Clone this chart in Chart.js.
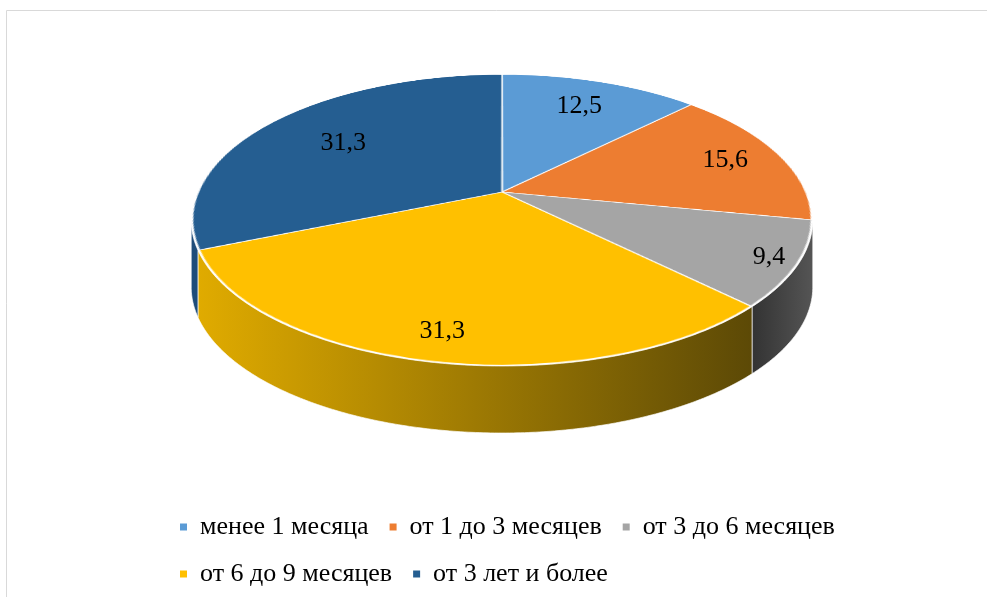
<!DOCTYPE html>
<html>
<head>
<meta charset="utf-8">
<script src="https://cdn.jsdelivr.net/npm/chart.js@4.4.0/dist/chart.umd.min.js"></script>
<style>
html, body { margin: 0; padding: 0; background: #fff; }
</style>
</head>
<body>
<canvas id="mycanvas" width="987" height="597"></canvas>
<script>
var labels = ['менее 1 месяца', 'от 1 до 3 месяцев', 'от 3 до 6 месяцев', 'от 6 до 9 месяцев', 'от 3 лет и более'];
var values = [12.5, 15.6, 9.4, 31.3, 31.3];

var colors = ['#5B9BD5', '#ED7D31', '#A5A5A5', '#FFC000', '#255E91'];
var sideLeft = ['#3f78ad', '#b85a1c', '#333333', '#E0AB00', '#1E4C7A'];
var sideRight = ['#2f5f8c', '#8e4413', '#555555', '#5C4906', '#1E4C7A'];
var labelRadius = [0.75, 0.80, 0.91, 0.85, 0.67];

// "camera" for the tilted pie: screen centre, scales, perspective, thickness
var view = {cx: 502, cy: 192, k: 305, m: 140.6, p: 0.192, depth: 67};

function project(a, r) {
	var u = r * Math.cos(a), v = r * Math.sin(a);
	var w = 1 - view.p * v;
	return {x: view.cx + view.k * u / w, y: view.cy + view.m * v / w};
}

var pie3d = {
	id: 'pie3d',
	beforeDatasetsDraw: function(chart) {
		var ctx = chart.ctx;
		var arcs = chart.getDatasetMeta(0).data;

		// side wall, only the part facing us
		var f0 = Math.asin(view.p), f1 = Math.PI - f0;
		arcs.forEach(function(arc, i) {
			var lo = Math.max(arc.startAngle, f0), hi = Math.min(arc.endAngle, f1);
			if (hi <= lo) return;
			var n = Math.max(2, Math.ceil((hi - lo) / 0.01));
			var rim = [];
			for (var j = 0; j <= n; j++) rim.push(project(lo + (hi - lo) * j / n, 1));
			var xs = rim.map(function(p){ return p.x; });
			var x0 = Math.min.apply(null, xs), x1 = Math.max.apply(null, xs);
			var g = ctx.createLinearGradient(x0, 0, x1 + 0.5, 0);
			g.addColorStop(0, sideLeft[i]);
			g.addColorStop(1, sideRight[i]);
			ctx.save();
			ctx.beginPath();
			ctx.moveTo(rim[0].x, rim[0].y);
			rim.forEach(function(p){ ctx.lineTo(p.x, p.y); });
			for (var q = rim.length - 1; q >= 0; q--) ctx.lineTo(rim[q].x, rim[q].y + view.depth);
			ctx.closePath();
			ctx.fillStyle = g;
			ctx.fill();
			ctx.strokeStyle = 'rgba(255,255,255,0.65)';
			ctx.lineWidth = 1;
			ctx.stroke();
			ctx.restore();
		});

		// top face: let Chart.js draw the round pie off screen, then tilt it row by row
		var off = document.createElement('canvas');
		off.width = chart.width;
		off.height = chart.height;
		var octx = off.getContext('2d');
		arcs.forEach(function(arc){ arc.draw(octx); });
		var sx = arcs[0].x, sy = arcs[0].y, R = arcs[0].outerRadius + 1;
		for (var Y = 60; Y <= 380; Y++) {
			var t = Y + 0.5 - view.cy;
			var v = t / (view.m + view.p * t);
			if (v < -1.05 || v > 1.05) continue;
			var w = 1 - view.p * v;
			var sc = view.k / (w * R);
			var srcY = sy + v * R;
			ctx.drawImage(off, 0, srcY - 0.5, off.width, 1, view.cx - sx * sc, Y, off.width * sc, 1);
		}

		// value labels
		ctx.save();
		ctx.font = '26px "Liberation Serif"';
		ctx.fillStyle = '#000';
		ctx.textAlign = 'center';
		ctx.textBaseline = 'middle';
		arcs.forEach(function(arc, i) {
			var mid = (arc.startAngle + arc.endAngle) / 2;
			var p = project(mid, labelRadius[i]);
			ctx.fillText(String(values[i]).replace('.', ','), p.x, p.y);
		});
		ctx.restore();
		return false;
	},
	afterDraw: function(chart) {
		var ctx = chart.ctx;
		ctx.save();
		ctx.strokeStyle = '#d9d9d9';
		ctx.lineWidth = 1;
		ctx.beginPath();
		ctx.moveTo(6.5, 597);
		ctx.lineTo(6.5, 10.5);
		ctx.lineTo(987, 10.5);
		ctx.stroke();
		ctx.restore();
	}
};

Chart.defaults.font.family = '"Liberation Serif", serif';

var ctx = document.getElementById('mycanvas');
var pieChart = new Chart(ctx, {
	type: 'pie',
	data: {
		labels: labels,
		datasets: [{
			data: values,
			backgroundColor: colors,
			borderColor: '#ffffff',
			borderWidth: 1.2
		}]
	},
	options: {
		responsive: false,
		animation: false,
		layout: {padding: {left: 159, right: 32, top: 0, bottom: 0}},
		plugins: {
			legend: {
				position: 'bottom',
				align: 'start',
				labels: {
					boxWidth: 7,
					boxHeight: 7,
					padding: 21,
					color: '#000',
					font: {size: 26},
					generateLabels: function(chart) {
						var items = Chart.overrides.doughnut.plugins.legend.labels.generateLabels(chart);
						items.forEach(function(it){ it.lineWidth = 0; it.strokeStyle = 'rgba(0,0,0,0)'; });
						return items;
					}
				}
			},
			tooltip: {enabled: false}
		}
	},
	plugins: [pie3d]
});
</script>
</body>
</html>
